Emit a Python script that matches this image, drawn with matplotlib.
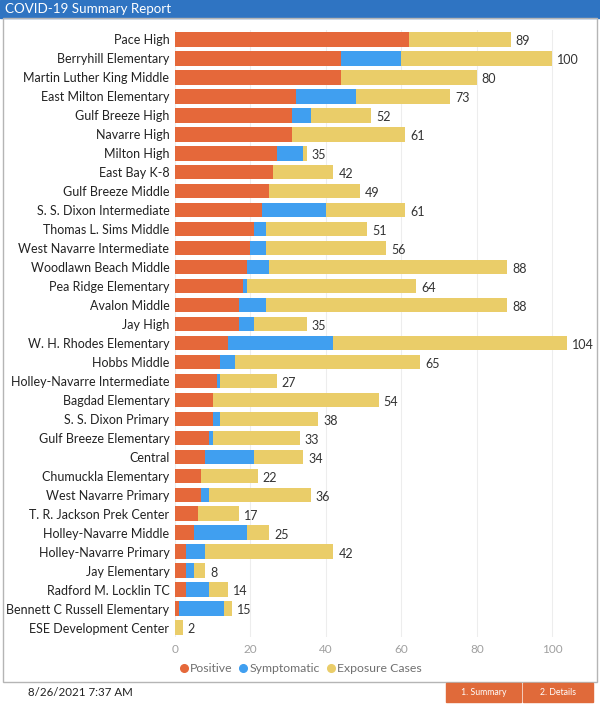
import numpy as np
import matplotlib
matplotlib.use('Agg')
import matplotlib.pyplot as plt
from matplotlib.lines import Line2D
from matplotlib.patches import Rectangle

plt.rcParams['font.family'] = ['Lato', 'DejaVu Sans']

# ── Données ──
ecoles = ["Pace High", "Berryhill Elementary", "Martin Luther King Middle",
          "East Milton Elementary", "Gulf Breeze High", "Navarre High",
          "Milton High", "East Bay K-8", "Gulf Breeze Middle",
          "S. S. Dixon Intermediate", "Thomas L. Sims Middle",
          "West Navarre Intermediate", "Woodlawn Beach Middle",
          "Pea Ridge Elementary", "Avalon Middle", "Jay High",
          "W. H. Rhodes Elementary", "Hobbs Middle",
          "Holley-Navarre Intermediate", "Bagdad Elementary",
          "S. S. Dixon Primary", "Gulf Breeze Elementary", "Central",
          "Chumuckla Elementary", "West Navarre Primary",
          "T. R. Jackson Prek Center", "Holley-Navarre Middle",
          "Holley-Navarre Primary", "Jay Elementary", "Radford M. Locklin TC",
          "Bennett C Russell Elementary", "ESE Development Center"]
positive = [62, 44, 44, 32, 31, 31, 27, 26, 25, 23, 21, 20, 19, 18, 17, 17,
            14, 12, 11, 10, 10, 9, 8, 7, 7, 6, 5, 3, 3, 3, 1, 0]
symptomatic = [0, 16, 0, 16, 5, 0, 7, 0, 0, 17, 3, 4, 6, 1, 7, 4,
               28, 4, 1, 0, 2, 1, 13, 0, 2, 0, 14, 5, 2, 6, 12, 0]
exposure = [27, 40, 36, 25, 16, 30, 1, 16, 24, 21, 27, 32, 63, 45, 64, 14,
            62, 49, 15, 44, 26, 23, 13, 15, 27, 11, 6, 34, 3, 5, 2, 2]
xticks = [0, 20, 40, 60, 80, 100]

c_pos = '#E5683A'
c_sym = '#409FF0'
c_exp = '#EACD69'

pos = np.array(positive)
sym = np.array(symptomatic)
exp_ = np.array(exposure)
total = pos + sym + exp_
y = np.arange(len(ecoles))

fig = plt.figure(figsize=(6, 7.05), dpi=100)

# bandeau titre
fig.patches.append(Rectangle((0, 1 - 18 / 705), 1, 18 / 705, transform=fig.transFigure,
                             color='#2F74C2', zorder=0))
fig.text(5 / 600, 1 - 9 / 705, "COVID-19 Summary Report", color='white',
         fontsize=9.6, va='center', ha='left')

# cadre
fig.patches.append(Rectangle((3 / 600, 1 - 682 / 705), 594 / 600, 664 / 705,
                             transform=fig.transFigure, fill=False,
                             edgecolor='#B5B5B5', lw=1, zorder=0))

ax = fig.add_axes([175 / 600, 1 - 637 / 705, 415 / 600, 607 / 705])
h = 0.76
ax.barh(y, pos, height=h, color=c_pos, zorder=2)
ax.barh(y, sym, left=pos, height=h, color=c_sym, zorder=2)
ax.barh(y, exp_, left=pos + sym, height=h, color=c_exp, zorder=2)

for yi, t in zip(y, total):
    ax.text(t + 1.3, yi + 0.1, str(t), va='center', ha='left', fontsize=9, color='#333333')

ax.set_ylim(len(ecoles) - 0.5, -0.5)
ax.set_xlim(0, 110)
ax.set_yticks(y)
ax.set_yticklabels(ecoles, fontsize=9.0, color='#222222')
ax.set_xticks(xticks)
ax.set_xticklabels([str(v) for v in xticks], fontsize=8.5, color='#A0A0A0')
ax.tick_params(length=0, pad=4)
ax.tick_params(axis='x', pad=5)
ax.grid(axis='x', color='#EDEDED', lw=0.8, zorder=0)
for s in ax.spines.values():
    s.set_visible(False)

handles = [Line2D([], [], marker='o', ls='', color=c, markersize=5.5) for c in (c_pos, c_sym, c_exp)]
fig.legend(handles, ["Positive", "Symptomatic", "Exposure Cases"], loc='center',
           bbox_to_anchor=(299 / 600, 1 - 669 / 705), ncol=3, frameon=False,
           fontsize=8.8, handletextpad=-0.1, columnspacing=0.3, handlelength=1.2,
           labelcolor='#707070')

# pied de page
fig.text(28 / 600, 1 - 692 / 705, "8/26/2021 7:37 AM", fontsize=8.3, va='center', color='#222222')
for x0, x1, lab in [(446, 521, "1. Summary"), (523, 593, "2. Details")]:
    fig.patches.append(Rectangle((x0 / 600, 1 - 702 / 705), (x1 - x0) / 600, 19 / 705,
                                 transform=fig.transFigure, color='#E06A3A', zorder=0))
    fig.text((x0 + x1) / 2 / 600, 1 - 692.5 / 705, lab, fontsize=6.3, color='white',
             ha='center', va='center')

fig.savefig("out.png", dpi=100)
